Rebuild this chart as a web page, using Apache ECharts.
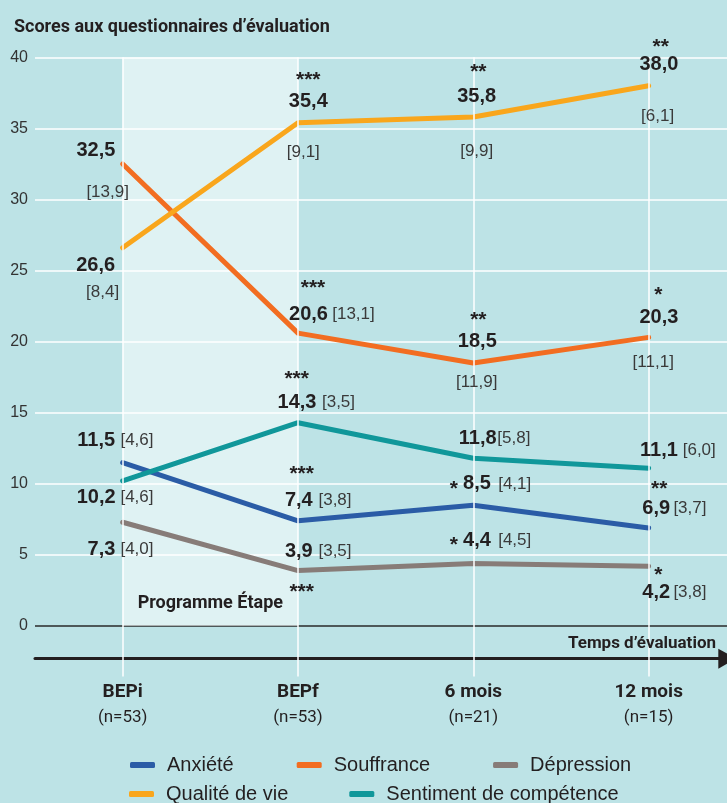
<!DOCTYPE html>
<html><head><meta charset="utf-8">
<script src="https://cdn.jsdelivr.net/npm/echarts@6/dist/echarts.min.js"></script>
<style>html,body{margin:0;padding:0;background:#bde3e6}#c{width:727px;height:803px}</style>
</head><body><div id="c"></div>
<script>
// ---------- DATA ----------
const categories = ['BEPi', 'BEPf', '6 mois', '12 mois'];
const sampleSizes = ['(n=53)', '(n=53)', '(n=21)', '(n=15)'];

const anxiete = [11.5, 7.4, 8.5, 6.9];
const anxieteSD = [4.6, 3.8, 4.1, 3.7];
const anxieteSig = ['', '***', '*', '**'];

const souffrance = [32.5, 20.6, 18.5, 20.3];
const souffranceSD = [13.9, 13.1, 11.9, 11.1];
const souffranceSig = ['', '***', '**', '*'];

const depression = [7.3, 3.9, 4.4, 4.2];
const depressionSD = [4.0, 3.5, 4.5, 3.8];
const depressionSig = ['', '***', '*', '*'];

const qualite = [26.6, 35.4, 35.8, 38.0];
const qualiteSD = [8.4, 9.1, 9.9, 6.1];
const qualiteSig = ['', '***', '**', '**'];

const sentiment = [10.2, 14.3, 11.8, 11.1];
const sentimentSD = [4.6, 3.5, 5.8, 6.0];
const sentimentSig = ['', '***', '', ''];

// ---------- LABEL LAYOUT (pixel offsets from each point) ----------
const layoutAnx = {
  v: [[-26.4,-22.5],[0.8,-20.8],[3.7,-21.2],[7.6,-19.6]],
  s: [[14.3,-22.5],[37,-20.8],[41.4,-21.2],[41.3,-19.6]],
  a: [null,[3.7,-50.1],[-19.6,-20.2],[10.6,-42.9]]
};
const layoutSouf = {
  v: [[-26.7,-13.9],[10.5,-19.1],[4,-21.3],[10.3,-20.1]],
  s: [[-15,28.4],[55.5,-19.1],[3.4,19.3],[4.6,24.9]],
  a: [null,[15,-49.1],[5,-46.3],[9.6,-46.4]]
};
const layoutDep = {
  v: [[-21.2,27.1],[0.8,-18.9],[3.7,-23.4],[7.6,26.4]],
  s: [[14.3,27.1],[37,-18.9],[41.4,-23.4],[41.3,26.4]],
  a: [null,[3.7,17.7],[-19.6,-22.4],[9.6,5.4]]
};
const layoutQual = {
  v: [[-27,17.2],[10.3,-21],[3.4,-20.3],[10.3,-20.8]],
  s: [[-20,44.5],[5.3,30],[3.4,34],[9,30.9]],
  a: [null,[10.3,-46.7],[5,-48.7],[12,-42.5]]
};
const layoutSent = {
  v: [[-26.5,16.7],[-1,-20],[4.4,-19.9],[10.3,-18.2]],
  s: [[14.3,16.7],[40.5,-20],[40.5,-19.9],[50.6,-18.2]],
  a: [null,[-1.3,-47],null,null]
};

const defs = [
  {name:'Anxiété', values:anxiete, sd:anxieteSD, sig:anxieteSig, color:'#2b5ca6', layout:layoutAnx},
  {name:'Souffrance', values:souffrance, sd:souffranceSD, sig:souffranceSig, color:'#f26d21', layout:layoutSouf},
  {name:'Dépression', values:depression, sd:depressionSD, sig:depressionSig, color:'#877c78', layout:layoutDep},
  {name:'Qualité de vie', values:qualite, sd:qualiteSD, sig:qualiteSig, color:'#f9a61c', layout:layoutQual},
  {name:'Sentiment de compétence', values:sentiment, sd:sentimentSD, sig:sentimentSig, color:'#10979a', layout:layoutSent}
];

const TXT = '#231f20';
const valueStyle = {fontFamily:'Liberation Sans', fontWeight:'bold', fontSize:20, color:TXT};
const sdStyle = {fontFamily:'Liberation Sans', fontWeight:'normal', fontSize:17, color:'#3a3a3a'};
const starStyle = {fontFamily:'Liberation Sans', fontWeight:'bold', fontSize:21, color:TXT};
const STAR_SHIFT = 4;

function fmt(v){ return v.toFixed(1).replace('.', ','); }

function markPoints(d){
  const out = [];
  d.values.forEach((val, i) => {
    out.push({coord:[i, val], label:Object.assign({show:true, formatter:fmt(val), offset:d.layout.v[i]}, valueStyle)});
    out.push({coord:[i, val], label:Object.assign({show:true, formatter:'[' + fmt(d.sd[i]) + ']', offset:d.layout.s[i]}, sdStyle)});
    if (d.sig[i] && d.layout.a[i]) {
      out.push({coord:[i, val], label:Object.assign({show:true, formatter:d.sig[i], offset:[d.layout.a[i][0], d.layout.a[i][1] + STAR_SHIFT]}, starStyle)});
    }
  });
  return out;
}

const series = [{
  name:'_frame', type:'line', data:[], z:1, silent:true,
  markArea:{
    silent:true,
    itemStyle:{color:'rgba(255,255,255,0.52)'},
    label:{show:true, position:'insideBottom', distance:14, formatter:'Programme Étape',
      fontFamily:'Roboto', fontWeight:'bold', fontSize:18, color:TXT},
    data:[[{coord:[0, 40]}, {coord:[1, 0]}]]
  },
  markLine:{
    silent:true, symbol:'none', animation:false,
    lineStyle:{color:'#ffffff', width:1.5, type:'solid'},
    label:{show:false},
    data: categories.map((c, i) => [{coord:[i, 40]}, {coord:[i, -3.55]}])
  }
}];

defs.forEach(d => {
  series.push({
    name:d.name, type:'line', data:d.values, z:3,
    symbol:'none', color:d.color,
    lineStyle:{color:d.color, width:5, cap:'round', join:'round'},
    markPoint:{
      symbol:'circle', symbolSize:1, silent:true, animation:false,
      itemStyle:{color:'rgba(0,0,0,0)'},
      label:{position:'inside', align:'center', verticalAlign:'middle'},
      data: markPoints(d)
    }
  });
});

const gridLineColors = ['rgba(0,0,0,0)', '#2a2a2a', '#fff', '#fff', '#fff', '#fff', '#fff', '#fff', '#fff', '#fff'];

const legendText = {fontFamily:'Liberation Sans', fontSize:20, color:TXT, padding:[0,0,0,7]};

const option = {
  backgroundColor:'#bde3e6',
  animation:false,
  title:[
    {text:'Scores aux questionnaires d’évaluation', left:9, top:13,
      textStyle:{fontFamily:'Roboto', fontWeight:'bold', fontSize:18, color:TXT}},
    {text:'Temps d’évaluation', right:6, top:630,
      textStyle:{fontFamily:'Roboto', fontWeight:'bold', fontSize:17, color:TXT}}
  ],
  legend:[
    {data:['Anxiété','Souffrance','Dépression'], left:125, top:750, icon:'roundRect',
      itemWidth:25, itemHeight:6, itemGap:63, textStyle:legendText, selectedMode:false},
    {data:['Qualité de vie','Sentiment de compétence'], left:124, top:779, icon:'roundRect',
      itemWidth:25, itemHeight:6, itemGap:61, textStyle:legendText, selectedMode:false}
  ],
  grid:{left:35, top:57.3, right:-9.3, bottom:105.9, containLabel:false, outerBoundsMode:'none'},
  xAxis:{
    type:'category', data:categories, boundaryGap:true, offset:-38.4,
    axisLine:{show:true, onZero:false, lineStyle:{color:TXT, width:3},
      symbol:['none','triangle'], symbolSize:[20,18], symbolOffset:[0,-9]},
    axisTick:{show:false},
    splitLine:{show:false},
    axisLabel:{
      margin:23,
      formatter:(v, i) => '{a|' + v + '}\n{b|' + sampleSizes[i] + '}',
      rich:{
        a:{fontFamily:'Roboto', fontWeight:'bold', fontSize:19, lineHeight:22, color:TXT},
        b:{fontFamily:'Roboto', fontSize:17, lineHeight:28, color:TXT}
      }
    }
  },
  yAxis:{
    type:'value', min:-5, max:40, interval:5,
    axisLine:{show:false}, axisTick:{show:false},
    axisLabel:{margin:7, fontFamily:'Liberation Sans', fontSize:16, color:'#333',
      formatter:v => v < 0 ? '' : String(v)},
    splitLine:{show:true, lineStyle:{color:gridLineColors, width:1.5}}
  },
  series:series
};

const chart = echarts.init(document.getElementById('c'), null, {renderer:'canvas'});
chart.setOption(option);
</script>
</body></html>
